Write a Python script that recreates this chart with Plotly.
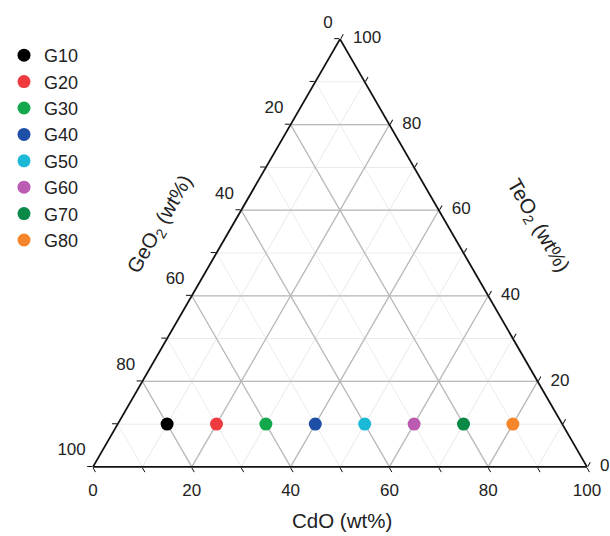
import plotly.graph_objects as go

# Glass compositions (wt%)
samples = ["G10", "G20", "G30", "G40", "G50", "G60", "G70", "G80"]
cdo = [10, 20, 30, 40, 50, 60, 70, 80]
teo2 = [10, 10, 10, 10, 10, 10, 10, 10]
geo2 = [80, 70, 60, 50, 40, 30, 20, 10]
colors = ["#000000", "#ef3b3f", "#14a84c", "#1d4fa6", "#1bb9d6",
          "#bb5bb2", "#0b8a47", "#f5852a"]

# Axis ticks
minor_ticks = [0, 10, 20, 30, 40, 50, 60, 70, 80, 90, 100]
major_ticks = [0, 20, 40, 60, 80, 100]
inner_grid = [20, 40, 60, 80]

FONT = "Liberation Sans, Arial, sans-serif"
TICK_FS = 17

fig = go.Figure()

# darker grid lines every 20 wt% (one trace per family, gaps between lines)
def grid_family(kind):
    a, b, c = [], [], []
    for v in inner_grid:
        if kind == "a":
            a += [v, v, None]; b += [100 - v, 0, None]; c += [0, 100 - v, None]
        elif kind == "b":
            a += [100 - v, 0, None]; b += [v, v, None]; c += [0, 100 - v, None]
        else:
            a += [100 - v, 0, None]; b += [0, 100 - v, None]; c += [v, v, None]
    return a, b, c

for kind in ("a", "b", "c"):
    ga, gb, gc = grid_family(kind)
    fig.add_trace(go.Scatterternary(
        a=ga, b=gb, c=gc, mode="lines",
        line=dict(color="#b9b9b9", width=1.3),
        showlegend=False, hoverinfo="skip", connectgaps=False))

# sample points
for name, t, g, cd, col in zip(samples, teo2, geo2, cdo, colors):
    fig.add_trace(go.Scatterternary(
        a=[t], b=[g], c=[cd], mode="markers", name=name,
        marker=dict(size=13, color=col, line=dict(width=0)),
        hovertemplate=name + "<br>TeO<sub>2</sub>: %{a}<br>GeO<sub>2</sub>: %{b}<br>CdO: %{c}<extra></extra>"))

# tick labels
def label_trace(a, b, c, text, pos, msize):
    return go.Scatterternary(
        a=a, b=b, c=c, text=text, mode="markers+text", textposition=pos,
        marker=dict(size=msize, color="rgba(0,0,0,0)"),
        textfont=dict(family=FONT, size=TICK_FS, color="#222222"),
        cliponaxis=False, showlegend=False, hoverinfo="skip")

# CdO along the bottom edge
fig.add_trace(label_trace([0] * len(major_ticks), [100 - v for v in major_ticks],
                          major_ticks, [str(v) for v in major_ticks],
                          "bottom center", 25))
# GeO2 along the left edge
fig.add_trace(label_trace([100 - v for v in major_ticks], major_ticks,
                          [0] * len(major_ticks), [str(v) for v in major_ticks],
                          "top left", 10))
# TeO2 along the right edge
fig.add_trace(label_trace(major_ticks, [0] * len(major_ticks),
                          [100 - v for v in major_ticks], [str(v) for v in major_ticks],
                          "middle right", 19))

axis_common = dict(
    tickmode="array", tickvals=minor_ticks, showticklabels=False,
    ticks="outside", ticklen=5, tickwidth=1.2, tickcolor="#111111",
    showline=True, linecolor="#111111", linewidth=1.8,
    showgrid=True, gridcolor="#ebebeb", gridwidth=1, min=0, title=dict(text=""))

title_font = dict(family=FONT, size=20.5, color="#222222")

fig.update_layout(
    width=610, height=536,
    margin=dict(l=0, r=0, t=0, b=0),
    paper_bgcolor="white",
    font=dict(family=FONT, color="#222222"),
    ternary=dict(
        sum=100,
        bgcolor="white",
        domain=dict(x=[93 / 610, 587 / 610], y=[69 / 536, 497 / 536]),
        aaxis=axis_common, baxis=axis_common, caxis=axis_common),
    legend=dict(x=4 / 610, y=1 - 37 / 536, xanchor="left", yanchor="top",
                font=dict(family=FONT, size=18, color="#222222"),
                bgcolor="rgba(0,0,0,0)", borderwidth=0, itemclick=False),
    annotations=[
        dict(text="CdO (wt%)", x=342 / 610, y=1 - 520 / 536, xref="paper", yref="paper",
             xanchor="center", yanchor="middle", showarrow=False, font=title_font),
        dict(text="GeO<sub>2</sub> (wt%)", x=160 / 610, y=1 - 225 / 536, xref="paper",
             yref="paper", xanchor="center", yanchor="middle", showarrow=False,
             textangle=-60, font=title_font),
        dict(text="TeO<sub>2</sub> (wt%)", x=538 / 610, y=1 - 226 / 536, xref="paper",
             yref="paper", xanchor="center", yanchor="middle", showarrow=False,
             textangle=60, font=title_font),
    ],
)

fig.write_html("out.html")
